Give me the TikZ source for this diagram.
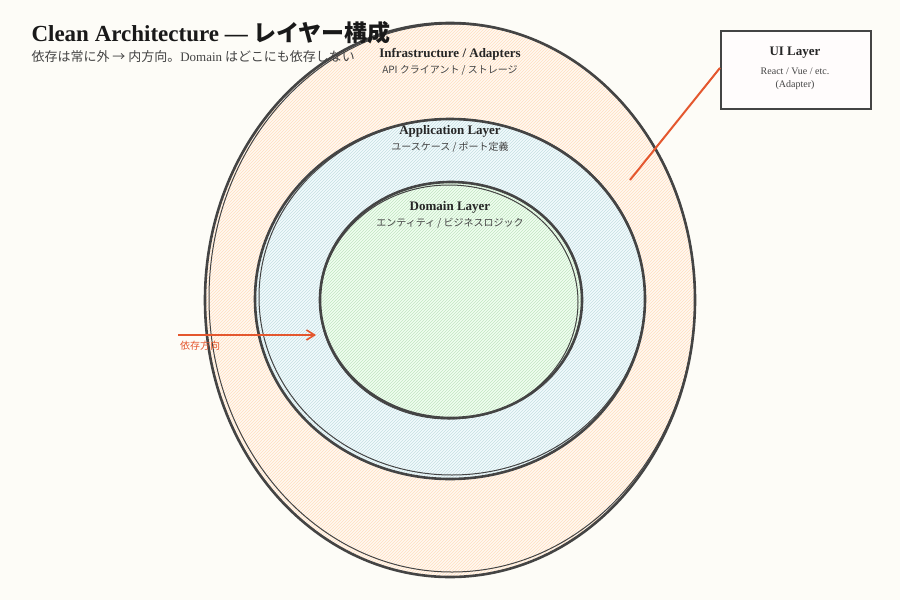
\documentclass[tikz,border=0pt]{standalone}
\usepackage{fontspec}
\setmainfont{Liberation Serif}
\newfontfamily\jp{Noto Sans CJK JP}
\usetikzlibrary{patterns,arrows.meta}
\definecolor{bg}{HTML}{FDFCF7}
\definecolor{ink}{HTML}{444444}
\definecolor{acc}{HTML}{E4572E}
\begin{document}
\begin{tikzpicture}[x=1pt,y=-1pt,
  ring/.style={draw=ink,line width=2.6pt},
  ttl/.style={font=\bfseries\fontsize{13}{15}\selectfont,text=black!85},
  sub/.style={font=\jp\fontsize{10}{12}\selectfont,text=ink}]
\fill[bg] (0,0) rectangle (900,600);
\useasboundingbox (0,0) rectangle (900,600);
\fill[orange!5] (450,300) ellipse[x radius=245,y radius=277];
\fill[pattern=north east lines,pattern color=orange!25] (450,300) ellipse[x radius=245,y radius=277];
\fill[bg] (450,299) ellipse[x radius=195,y radius=180];
\fill[cyan!5] (450,299) ellipse[x radius=195,y radius=180];
\fill[pattern=north east lines,pattern color=cyan!30!gray!35] (450,299) ellipse[x radius=195,y radius=180];
\fill[bg] (451,300) ellipse[x radius=131,y radius=118];
\fill[green!6] (451,300) ellipse[x radius=131,y radius=118];
\fill[pattern=north east lines,pattern color=green!40!gray!35] (451,300) ellipse[x radius=131,y radius=118];
\draw[ring] (450,300) ellipse[x radius=245,y radius=277];
\draw[ring,line width=1pt] (452,298) ellipse[x radius=243,y radius=274];
\draw[ring] (450,299) ellipse[x radius=195,y radius=180];
\draw[ring,line width=1pt] (452,297) ellipse[x radius=193,y radius=178];
\draw[ring] (451,300) ellipse[x radius=131,y radius=118];
\draw[ring,line width=1pt] (449,302) ellipse[x radius=129,y radius=117];
\node[ttl] (inf) at (450,54) {Infrastructure / Adapters};
\node[sub] (infs) at (450,70) {API クライアント / ストレージ};
\node[ttl] (app) at (450,131) {Application Layer};
\node[sub] (apps) at (450,147) {ユースケース / ポート定義};
\node[ttl] (dom) at (450,207) {Domain Layer};
\node[sub] (doms) at (450,223) {エンティティ / ビジネスロジック};
\node[draw=ink,line width=1.8pt,fill=pink!5,minimum width=150pt,minimum height=78pt,anchor=north west] (ui) at (720,30) {};
\node[ttl] (uit) at (795,53) {UI Layer};
\node[font=\fontsize{10}{13}\selectfont,text=ink,align=center] (uis) at (795,79) {React / Vue / etc.\\(Adapter)};
\coordinate (uend) at (630,180);
\draw[acc,line width=2pt] (ui.west) ++(0,-2) -- (uend);
\coordinate (as) at (178,335);
\coordinate (ae) at (316,335);
\draw[acc,line width=1.6pt,-{Straight Barb[length=8pt,width=10pt]}] (as) -- (ae);
\node[font=\jp\fontsize{10}{12}\selectfont,text=acc] (al) at (200,346) {依存方向};
\node[font=\bfseries\fontsize{23}{26}\selectfont,anchor=west,text=black!90] (t) at (28,33) {Clean Architecture — {\jp レイヤー構成}};
\node[font=\jp\fontsize{13}{15}\selectfont,anchor=west,text=ink] (st) at (28,57) {依存は常に外 → 内方向。{\rmfamily Domain} はどこにも依存しない};
\end{tikzpicture}
\end{document}
